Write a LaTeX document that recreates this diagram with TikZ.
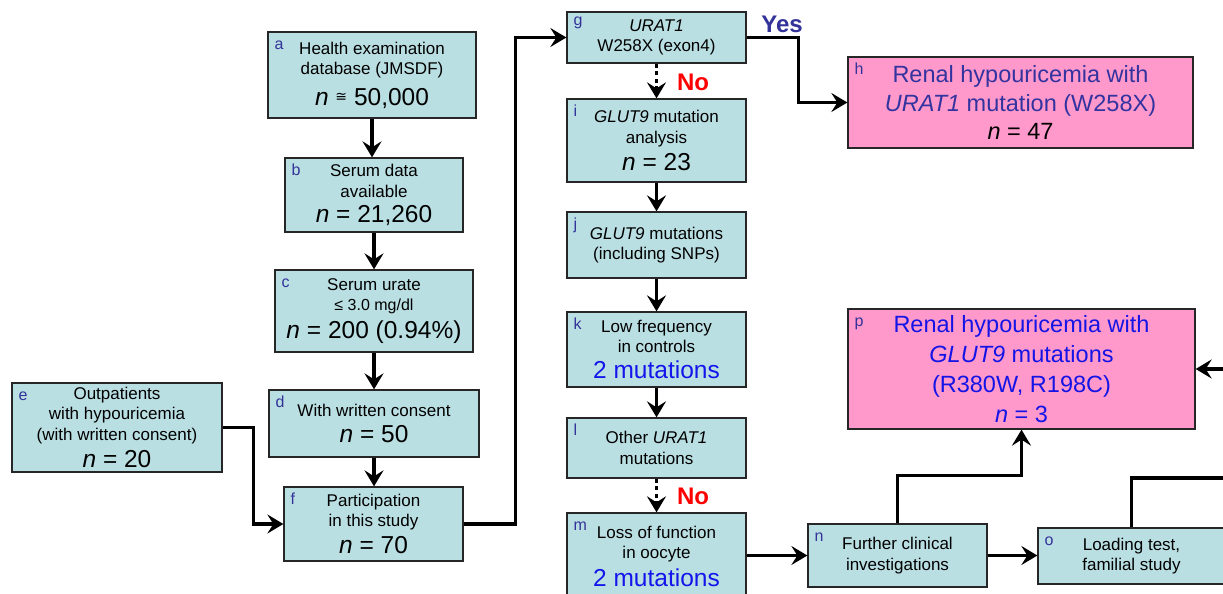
\documentclass[tikz,border=0pt]{standalone}
\usepackage{fontspec}
\setmainfont{Liberation Sans}
\newfontfamily\dejavu{DejaVu Sans}
\usetikzlibrary{arrows.meta}
\definecolor{boxteal}{RGB}{186,223,227}
\definecolor{boxpink}{RGB}{255,153,204}
\definecolor{labblue}{RGB}{51,51,153}
\definecolor{hblue}{RGB}{51,51,160}
\definecolor{pblue}{RGB}{20,20,230}
\definecolor{mutblue}{RGB}{20,20,235}
\newcommand{\bigf}{\fontsize{24.5}{28}\selectfont}
\newcommand{\nnn}{\textit{n}}
\tikzset{
  box/.style={draw=black!85, line width=1.3pt, fill=boxteal, align=center, inner sep=0pt, font=\fontsize{17}{20.5}\selectfont},
  pinkbox/.style={box, fill=boxpink, font=\fontsize{23.5}{28.5}\selectfont},
  lab/.style={anchor=base west, text=labblue, font=\fontsize{16}{16}\selectfont, inner sep=0pt},
  conn/.style={line width=3.5pt, -{Stealth[length=16pt,width=19pt,inset=6pt]}},
  dotconn/.style={conn, dash pattern=on 4pt off 3.5pt},
  line/.style={line width=3.5pt},
  yesno/.style={font=\bfseries\fontsize{24}{24}\selectfont, inner sep=0pt},
}
\begin{document}
\begin{tikzpicture}[x=1pt,y=-1pt]
\useasboundingbox (0,0) rectangle (1223,594);
\clip (0,0) rectangle (1223,594);
\fill[white] (0,0) rectangle (1223,594);

% boxes
\node[box, minimum width=208pt, minimum height=86pt] (a) at (372,75)
  {Health examination\\database (JMSDF)\\[9pt]{\bigf\nnn\ \raisebox{4pt}{\dejavu\fontsize{14}{14}\selectfont ≅} 50,000}};
\node[box, minimum width=178pt, minimum height=74pt] (b) at (374,195)
  {Serum data\\available\\[5pt]{\bigf\nnn\ = 21,260}};
\node[box, minimum width=198pt, minimum height=82pt] (c) at (374,311)
  {Serum urate\\{\fontsize{16}{20}\selectfont ≤ 3.0 mg/dl}\\[5.5pt]{\bigf\nnn\ = 200 (0.94\%)}};
\node[box, minimum width=210pt, minimum height=67pt] (d) at (374,423.5)
  {With written consent\\[5.5pt]{\bigf\nnn\ = 50}};
\node[box, minimum width=210pt, minimum height=89pt] (e) at (117,427.5)
  {Outpatients\\with hypouricemia\\(with written consent)\\[5.5pt]{\bigf\nnn\ = 20}};
\node[box, minimum width=179pt, minimum height=74pt] (f) at (373.5,524)
  {Participation\\in this study\\[5pt]{\bigf\nnn\ = 70}};
\node[box, minimum width=179pt, minimum height=51pt] (g) at (656.5,37.5)
  {\textit{URAT1}\\W258X (exon4)};
\node[pinkbox, minimum width=345pt, minimum height=91pt, text=hblue] (h) at (1020.5,102.5)
  {Renal hypouricemia with\\\textit{URAT1} mutation (W258X)\\\textcolor{black}{\nnn\ = 47}};
\node[box, minimum width=179pt, minimum height=83pt] (i) at (656.5,140.5)
  {\textit{GLUT9} mutation\\analysis\\[5.5pt]{\bigf\nnn\ = 23}};
\node[box, minimum width=179pt, minimum height=66pt] (j) at (656.5,245)
  {\textit{GLUT9} mutations\\(including SNPs)};
\node[box, minimum width=179pt, minimum height=75pt] (k) at (656.5,349.5)
  {Low frequency\\in controls\\[5.5pt]{\bigf\textcolor{mutblue}{2 mutations}}};
\node[box, minimum width=179pt, minimum height=60pt] (l) at (656.5,448)
  {Other \textit{URAT1}\\mutations};
\node[box, minimum width=179pt, minimum height=87pt] (m) at (656.5,556.5)
  {Loss of function\\in oocyte\\[5.5pt]{\bigf\textcolor{mutblue}{2 mutations}}};
\node[box, minimum width=179pt, minimum height=63pt] (n) at (897.5,555.5)
  {Further clinical\\investigations};
\node[box, minimum width=187pt, minimum height=56pt] (o) at (1131.5,556)
  {Loading test,\\familial study};
\node[pinkbox, minimum width=347pt, minimum height=120pt, text=pblue] (p) at (1021.5,369)
  {Renal hypouricemia with\\[1.5pt]\textit{GLUT9} mutations\\[1.5pt](R380W, R198C)\\[1.5pt]\nnn\ = 3};

% letter labels
\foreach \bx/\ch in {a/a,b/b,c/c,d/d,e/e,f/f,h/h,i/i,j/j,k/k,l/l,m/m,n/n,o/o,p/p}
  \node[lab] (lab\bx) at ([xshift=7pt,yshift=-18pt]\bx.north west) {\ch};
\node[lab] (labg) at ([xshift=7pt,yshift=-14pt]g.north west) {g};

% connectors
\draw[conn] (a.south) -- (a.south |- b.north);
\draw[conn] (b.south) -- (b.south |- c.north);
\draw[conn] (c.south) -- (c.south |- d.north);
\draw[conn] (d.south) -- (d.south |- f.north);
\draw[conn] (e.east) -- ++(31,0) |- (f.west);
\draw[conn] (f.east) -- ++(52,0) |- (g.west);
\draw[conn] (g.east) -- ++(52,0) |- (h.west);
\draw[dotconn] (g.south) -- (i.north);
\draw[conn] (i.south) -- (j.north);
\draw[conn] (j.south) -- (k.north);
\draw[conn] (k.south) -- (l.north);
\draw[dotconn] (l.south) -- (m.north);
\draw[conn] (m.east |- n.west) -- (n.west);
\draw[conn] (n.east) -- (n.east -| o.west);
\draw[conn] (n.north) -- ++(0,-48) -| (p.south);
\coordinate (oe) at (1240,478);
\coordinate (pe) at (1240,369);
\draw[line] (o.north) |- (oe);
\draw[conn] (pe) -- (p.east);

% yes/no
\node[yesno, text=labblue] (yes) at (782,24) {Yes};
\node[yesno, text=red] (no1) at (693,82) {No};
\node[yesno, text=red] (no2) at (693,496) {No};
\end{tikzpicture}
\end{document}
